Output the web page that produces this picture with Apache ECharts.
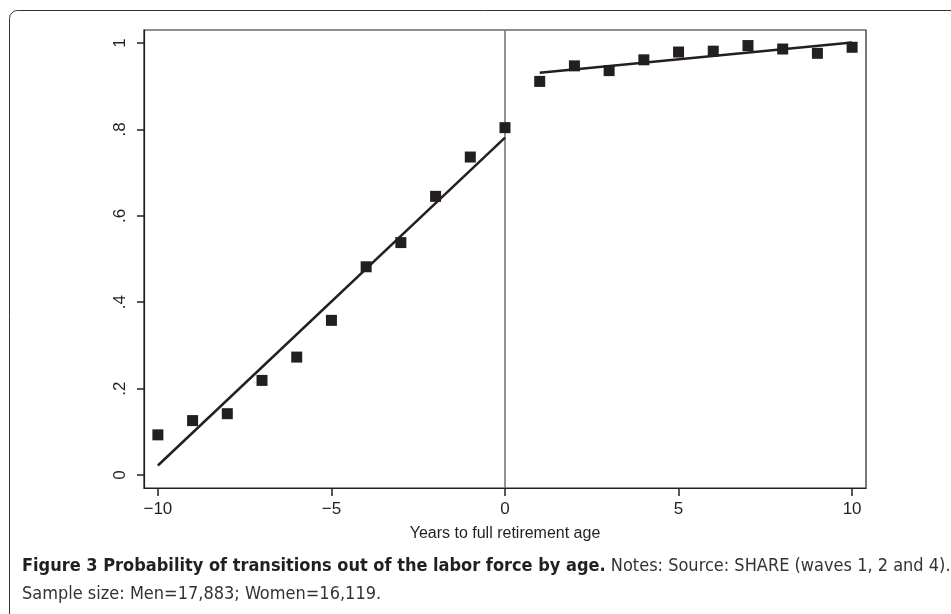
<!DOCTYPE html>
<html>
<head>
<meta charset="utf-8">
<script src="https://cdn.jsdelivr.net/npm/echarts@6/dist/echarts.min.js"></script>
<style>html,body{margin:0;padding:0;background:#fff}#c{width:951px;height:614px}</style>
</head>
<body>
<div id="c"></div>
<script>
// Data
const years = [-10,-9,-8,-7,-6,-5,-4,-3,-2,-1,0,1,2,3,4,5,6,7,8,9,10];
const probs = [0.093,0.126,0.142,0.219,0.273,0.358,0.482,0.538,0.645,0.736,0.804,0.911,0.947,0.936,0.961,0.979,0.981,0.994,0.986,0.976,0.990];
const fitLeftX = [-10, 0];
const fitLeftY = [0.022, 0.781];
const fitRightX = [1, 10];
const fitRightY = [0.931, 1.001];
const cutoffX = [0, 0];
const cutoffY = [-0.03, 1.03];
const xTicks = [-10, -5, 0, 5, 10];
const yTicks = [0, 0.2, 0.4, 0.6, 0.8, 1];
const xTitle = 'Years to full retirement age';
const captionBold = 'Figure 3 Probability of transitions out of the labor force by age.';
const captionRest = ' Notes: Source: SHARE (waves 1, 2 and 4).';
const captionLine2 = 'Sample size: Men=17,883; Women=16,119.';

const ink = '#231f20';
const labelFont = '"Liberation Sans", Arial, sans-serif';
const capFont = '"Liberation Sans Narrow", "DejaVu Sans Condensed", "Roboto", sans-serif';
const xMin = -10.4, xMax = 10.4, yMin = -0.03, yMax = 1.03;

const chart = echarts.init(document.getElementById('c'), null, {renderer: 'canvas'});
chart.setOption({
  animation: false,
  backgroundColor: '#fff',
  grid: {left: 144, top: 30, right: 85, bottom: 126, show: true, borderColor: ink, borderWidth: 1.2, containLabel: false},
  xAxis: {
    type: 'value', min: xMin, max: xMax,
    name: xTitle, nameLocation: 'middle', nameGap: 38,
    nameTextStyle: {fontFamily: labelFont, fontSize: 16, color: ink},
    axisLine: {show: true, onZero: false, lineStyle: {color: ink, width: 1.2}},
    axisTick: {show: true, length: 8, customValues: xTicks, lineStyle: {color: ink, width: 1.5}},
    axisLabel: {customValues: xTicks, margin: 13, fontFamily: labelFont, fontSize: 17, color: ink,
      formatter: v => (v < 0 ? '\u2212' + Math.abs(v) : String(v))},
    splitLine: {show: false}
  },
  yAxis: {
    type: 'value', min: yMin, max: yMax,
    axisLine: {show: true, onZero: false, lineStyle: {color: ink, width: 1.2}},
    axisTick: {show: true, length: 7, customValues: yTicks, lineStyle: {color: ink, width: 1.5}},
    axisLabel: {customValues: yTicks, rotate: 90, margin: 15, fontFamily: labelFont, fontSize: 17, color: ink,
      formatter: v => { if (v === 0) return '0'; if (v === 1) return '1'; return String(+v.toFixed(1)).replace(/^0/, ''); }},
    splitLine: {show: false}
  },
  series: [
    {type: 'line', data: cutoffX.map((x, i) => [x, cutoffY[i]]), symbol: 'none', lineStyle: {color: '#6d6e71', width: 1.5}, z: 1},
    {type: 'line', data: fitLeftX.map((x, i) => [x, fitLeftY[i]]), symbol: 'none', lineStyle: {color: ink, width: 2.5}, z: 2},
    {type: 'line', data: fitRightX.map((x, i) => [x, fitRightY[i]]), symbol: 'none', lineStyle: {color: ink, width: 2.5}, z: 2},
    {type: 'scatter', data: years.map((x, i) => [x, probs[i]]), symbol: 'rect', symbolSize: 11, itemStyle: {color: ink, opacity: 1}, z: 3}
  ],
  graphic: [
    {id: 'frame', type: 'rect', shape: {x: 9.5, y: 10.5, width: 1100, height: 800, r: 8}, style: {fill: 'none', stroke: '#333', lineWidth: 1}, silent: true},
    {id: 'cap1', type: 'text', left: 22, top: 557, style: {
      text: '{b|' + captionBold + '}{n|' + captionRest + '}',
      rich: {
        b: {fontFamily: capFont, fontSize: 18, fontWeight: 'bold', fill: ink},
        n: {fontFamily: capFont, fontSize: 18, fill: '#333'}
      }
    }},
    {id: 'cap2', type: 'text', left: 22, top: 585, style: {text: captionLine2, fontFamily: capFont, fontSize: 18, fill: '#333'}}
  ]
});
</script>
</body>
</html>
